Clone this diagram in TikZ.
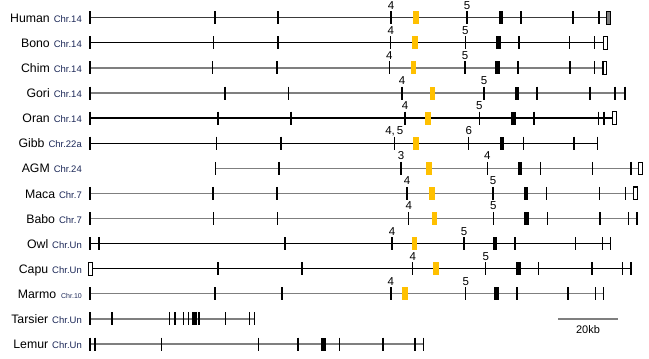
\documentclass[tikz,border=0pt]{standalone}
\usepackage{fontspec}
\setmainfont{Liberation Sans}
\definecolor{exonor}{HTML}{FFC000}
\definecolor{chrblue}{HTML}{1C2858}
\definecolor{lgray}{HTML}{7F7F7F}
\definecolor{hgray}{HTML}{3A3A3A}
\newcommand\generow[4]{% y, x0, x1, line colour
  \draw[gline,#4] (#2,#1) -- (#3,#1);}
\newcommand\thinticks[2]{\foreach \t in {#2} \draw[tk] (\t,#1-6.5) -- (\t,#1+6.5);}
\newcommand\thickticks[2]{\foreach \t in {#2} \draw[tkb] (\t,#1-6.5) -- (\t,#1+6.5);}
\newcommand\orbox[2]{\fill[exonor] (#2-2.6,#1-6.5) rectangle (#2+2.6,#1+6.5);}
\newcommand\blbox[2]{\fill[black] (#2-2.4,#1-6.5) rectangle (#2+2.4,#1+6.5);}
\newcommand\opbox[3]{\draw[line width=#3,fill=white] (#2-1.9,#1-6.3) rectangle (#2+1.9,#1+6.3);}
\newcommand\exlab[3]{\node[exl] at (#2,#1-8.6) {#3};}
\begin{document}
\begin{tikzpicture}[x=1pt,y=-1pt,
  gline/.style={line width=1.35pt},
  tk/.style={line width=1.4pt,black},
  tkb/.style={line width=2pt,black},
  exl/.style={anchor=base,inner sep=0pt,font=\fontsize{11.5}{11.5}\selectfont},
  sp/.style={anchor=base east,inner sep=0pt,font=\fontsize{12.3}{12.3}\selectfont}]
\useasboundingbox (0,0) rectangle (649,359);
% species labels
\node[sp] (lHuman) at (82,22.3) {Human\hspace{4pt}{\fontsize{9.5}{9.5}\selectfont\color{chrblue}Chr.14}};
\node[sp] (lBono) at (82,47.4) {Bono\hspace{4pt}{\fontsize{9.5}{9.5}\selectfont\color{chrblue}Chr.14}};
\node[sp] (lChim) at (82,72.5) {Chim\hspace{4pt}{\fontsize{9.5}{9.5}\selectfont\color{chrblue}Chr.14}};
\node[sp] (lGori) at (82,97.6) {Gori\hspace{4pt}{\fontsize{9.5}{9.5}\selectfont\color{chrblue}Chr.14}};
\node[sp] (lOran) at (82,122.7) {Oran\hspace{4pt}{\fontsize{9.5}{9.5}\selectfont\color{chrblue}Chr.14}};
\node[sp] (lGibb) at (82,147.8) {Gibb\hspace{4pt}{\fontsize{9.5}{9.5}\selectfont\color{chrblue}Chr.22a}};
\node[sp] (lAGM) at (82,172.9) {AGM\hspace{4pt}{\fontsize{9.5}{9.5}\selectfont\color{chrblue}Chr.24}};
\node[sp] (lMaca) at (82,198.0) {Maca\hspace{4pt}{\fontsize{9.5}{9.5}\selectfont\color{chrblue}Chr.7}};
\node[sp] (lBabo) at (82,223.1) {Babo\hspace{4pt}{\fontsize{9.5}{9.5}\selectfont\color{chrblue}Chr.7}};
\node[sp] (lOwl) at (82,248.2) {Owl\hspace{4pt}{\fontsize{9.5}{9.5}\selectfont\color{chrblue}Chr.Un}};
\node[sp] (lCapu) at (82,273.3) {Capu\hspace{4pt}{\fontsize{9.5}{9.5}\selectfont\color{chrblue}Chr.Un}};
\node[sp] (lMarmo) at (82,298.4) {Marmo\hspace{5pt}{\fontsize{7}{7}\selectfont\color{chrblue}Chr.10}};
\node[sp] (lTarsier) at (82,323.5) {Tarsier\hspace{4pt}{\fontsize{9.5}{9.5}\selectfont\color{chrblue}Chr.Un}};
\node[sp] (lLemur) at (82,348.6) {Lemur\hspace{4pt}{\fontsize{9.5}{9.5}\selectfont\color{chrblue}Chr.Un}};
% Human
\generow{17.7}{90}{608}{hgray}
\thinticks{17.7}{90,278,391,467,573,599}
\thickticks{17.7}{215,521}
\orbox{17.7}{416}\blbox{17.7}{501}
\draw[line width=1pt,fill=lgray] (606.4,11.4) rectangle (610.2,24);
\exlab{17.7}{391}{4}\exlab{17.7}{467}{5}
% Bono
\generow{42.8}{90}{605}{black}
\thinticks{42.8}{90,213.5,278,390.7,465.3,569.7,594.7}
\thickticks{42.8}{519}
\orbox{42.8}{415}\blbox{42.8}{498.7}\opbox{42.8}{605.3}{0.9pt}
\exlab{42.8}{390.7}{4}\exlab{42.8}{465.3}{5}
% Chim
\generow{67.9}{90}{605}{lgray}
\thinticks{67.9}{212.5,389.3,465,570,594.7}
\thickticks{67.9}{90,277,518}
\orbox{67.9}{413.7}\blbox{67.9}{497.7}\opbox{67.9}{604.7}{1.4pt}
\exlab{67.9}{389.3}{4}\exlab{67.9}{465}{5}
% Gori
\generow{93}{90}{625}{lgray}
\thinticks{93}{90,225,288.3,537,590,615,625}
\thickticks{93}{402,484}
\orbox{93}{432.7}\blbox{93}{517}
\exlab{93}{402}{4}\exlab{93}{484}{5}
% Oran
\generow{118.1}{90}{613}{black}
\thinticks{118.1}{90,218,291,405,479.3,534,598.3,604}
\orbox{118.1}{428}\blbox{118.1}{513.3}\opbox{118.1}{614.7}{0.9pt}
\exlab{118.1}{405}{4}\exlab{118.1}{479.3}{5}
% Gibb
\generow{143.2}{90}{597.7}{black}
\thinticks{143.2}{90,216.7,394.3,468.7,523.7,574,597.7}
\thickticks{143.2}{281}
\orbox{143.2}{416}\blbox{143.2}{502}
\exlab{143.2}{394.3}{4,\,5}\exlab{143.2}{468.7}{6}
% AGM
\generow{168.3}{215.7}{640}{lgray}
\thinticks{168.3}{215.7,279,487.3,540.7,592.3,631}
\thickticks{168.3}{401}
\orbox{168.3}{429}\blbox{168.3}{520}\opbox{168.3}{640.7}{0.9pt}
\exlab{168.3}{401}{3}\exlab{168.3}{487.3}{4}
% Maca
\generow{193.4}{90}{634}{lgray}
\thinticks{193.4}{90,213,277,407,493,546.7,599.3,625.7}
\orbox{193.4}{432}\blbox{193.4}{526}\opbox{193.4}{635.3}{1.4pt}
\exlab{193.4}{407}{4}\exlab{193.4}{493}{5}
% Babo
\generow{218.5}{90}{637}{lgray}
\thinticks{218.5}{90,213.7,277.7,408.7,493.3,547.3,600,628.3,637}
\orbox{218.5}{434.7}\blbox{218.5}{526.7}
\exlab{218.5}{408.7}{4}\exlab{218.5}{493.3}{5}
% Owl
\generow{243.6}{90}{610.7}{black}
\thinticks{243.6}{90,464,515,575.7,602.7,610.7}
\thickticks{243.6}{99,285,392}
\orbox{243.6}{414.3}\blbox{243.6}{495}
\exlab{243.6}{392}{4}\exlab{243.6}{464}{5}
% Capu
\generow{268.7}{91}{631.3}{black}
\thinticks{268.7}{218,302,412.7,485.7,538.7,592,622.7}
\thickticks{268.7}{631.3}
\opbox{268.7}{90.7}{0.9pt}
\orbox{268.7}{436}\blbox{268.7}{518.3}
\exlab{268.7}{412.7}{4}\exlab{268.7}{485.7}{5}
% Marmo
\generow{293.8}{90}{603.7}{lgray}
\thinticks{293.8}{90,215,282,465.7,517,568,595.3,603.7}
\thickticks{293.8}{390.7}
\orbox{293.8}{405}\blbox{293.8}{496.3}
\exlab{293.8}{390.7}{4}\exlab{293.8}{465.7}{5}
% Tarsier
\generow{318.9}{90}{254.7}{lgray}
\thinticks{318.9}{90,169.3,175,183.3,188.3,199,225.3,249.3,254.7}
\thickticks{318.9}{112}
\fill[black] (191.7,312.4) rectangle (197.3,325.4);
% Lemur
\generow{344}{90}{423.3}{lgray}
\thinticks{344}{90,95,161.7,258.3,298,339.7,383,415,423.3}
\blbox{344}{323.3}
% scale bar
\coordinate (sb1) at (558.3,319);
\coordinate (sb2) at (617.7,319);
\draw[line width=1.3pt,lgray] (sb1) -- (sb2);
\node[anchor=base,inner sep=0pt,font=\fontsize{11}{11}\selectfont] (sbl) at (588,333) {20kb};
\end{tikzpicture}
\end{document}
